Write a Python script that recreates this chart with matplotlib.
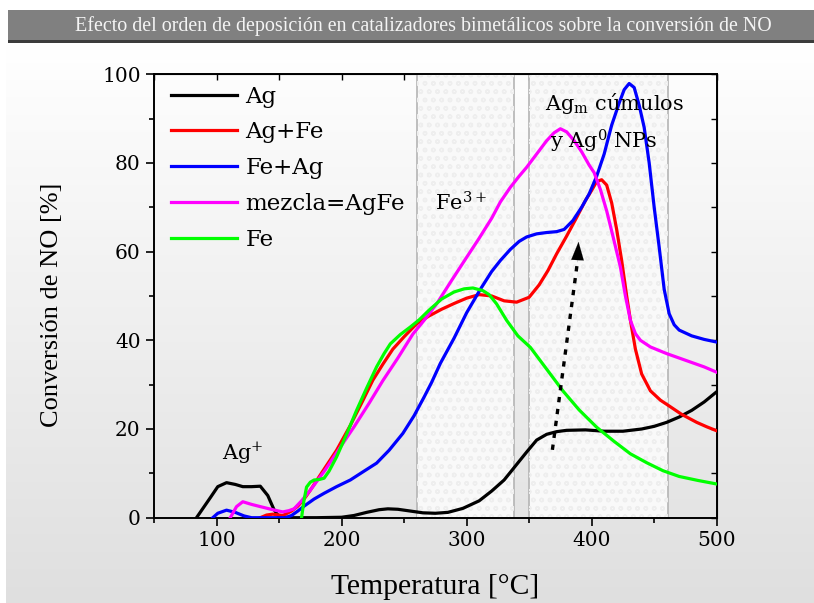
import numpy as np
import matplotlib
matplotlib.use("Agg")
from matplotlib import pyplot as plt
from matplotlib.patches import Rectangle

# curves (Temperatura [°C], Conversión de NO [%])
ag_x = [84, 95, 101, 108, 115, 121, 128, 135, 141, 146, 150, 160, 180, 200, 210, 220, 230, 237, 245, 255, 265,
        275, 285, 297, 310, 320, 330, 340, 348, 356, 364, 372, 380, 395, 410, 425, 440, 450, 460, 470, 480, 490, 500]
ag_y = [0, 4.5, 7.0, 7.9, 7.5, 7.0, 7.0, 7.1, 5.0, 1.8, 0.2, 0, 0, 0.1, 0.5, 1.2, 1.8, 2.0, 1.9, 1.5, 1.1,
        1.0, 1.2, 2.1, 3.8, 6.0, 8.5, 12.0, 14.8, 17.5, 18.8, 19.4, 19.7, 19.8, 19.5, 19.5, 20.0, 20.6, 21.5, 22.7,
        24.2, 26.1, 28.4]

agfe_x = [135, 140, 145, 153, 160, 165, 170, 175, 185, 196, 207, 217, 225, 233, 241, 250, 260, 270, 280, 290, 300,
          310, 320, 330, 340, 350, 358, 365, 372, 380, 388, 395, 400, 404, 408, 412, 416, 420, 424, 428, 431, 435,
          440, 447, 455, 463, 472, 484, 492, 500]
agfe_y = [0, 0.6, 0.8, 0.5, 1.5, 2.6, 4.2, 6.2, 10.5, 15.2, 20.8, 26.4, 31, 34.6, 38, 40.8, 43.7, 45.5, 47, 48.3,
          49.5, 50.3, 50.0, 48.9, 48.6, 49.7, 52.5, 55.7, 59.5, 63.5, 67.7, 71.5, 73.8, 75.8, 76.2, 75.0, 71, 65,
          58, 50, 44.5, 38, 32.4, 28.6, 26.5, 25, 23.3, 21.5, 20.5, 19.6]

feag_x = [97, 101, 108, 115, 122, 128, 135, 145, 155, 160, 165, 170, 178, 186, 196, 207, 218, 228, 238, 249, 258,
          266, 272, 279, 290, 300, 311, 320, 327, 335, 342, 348, 356, 364, 372, 378, 385, 392, 398, 404, 410, 416,
          422, 426, 430, 434, 438, 442, 446, 450, 454, 458, 462, 466, 470, 480, 490, 500]
feag_y = [0, 1.0, 1.7, 1.2, 0.4, 0, 0, 0, 0, 0.5, 1.5, 2.6, 4.2, 5.5, 7, 8.5, 10.5, 12.3, 15.2, 19, 23,
          27.2, 30.5, 34.8, 40.5, 46.2, 51.5, 55.5, 58, 60.5, 62.3, 63.3, 64, 64.3, 64.5, 65, 67, 70, 73, 77, 82,
          88.5, 93.5, 96.5, 97.9, 97, 93, 88, 80, 70, 61, 51.5, 46, 43.5, 42.3, 41, 40.2, 39.6]

mez_x = [111, 116, 121, 128, 135, 145, 153, 158, 162, 168, 175, 187, 199, 210, 222, 233, 245, 257, 266, 276, 288,
         300, 310, 320, 327, 335, 342, 348, 356, 364, 370, 375, 380, 386, 392, 398, 402, 407, 412, 417, 423, 427,
         431, 435, 439, 447, 460, 475, 490, 500]
mez_y = [0, 2.5, 3.6, 3.0, 2.5, 1.8, 1.3, 1.6, 2.0, 3.8, 6.2, 10.8, 15.9, 20.5, 25.8, 30.9, 36, 41.4, 44.5, 48.2,
         53.5, 58.7, 63, 67.5, 71.2, 74.5, 77, 79, 82, 85, 86.8, 87.7, 87, 85, 82.5, 79.5, 77.8, 74, 69.2, 63.5,
         56.5, 50, 44.5, 41.5, 40, 38.5, 37, 35.5, 34, 32.8]

fe_x = [168, 170, 172, 175, 178, 182, 186, 190, 196, 204, 212, 220, 228, 234, 239, 247, 255, 262, 270, 280, 290,
        298, 305, 313, 318, 324, 332, 341, 351, 364, 377, 390, 404, 418, 431, 444, 457, 470, 485, 500]
fe_y = [0, 4, 6.9, 8.0, 8.5, 8.6, 8.9, 10.5, 13.7, 18.8, 24.2, 29.2, 34, 37, 39.2, 41.3, 43, 44.6, 46.8, 49.3,
        50.9, 51.6, 51.8, 51.2, 50.3, 48.2, 44.5, 41, 38.4, 33.5, 28.6, 24.3, 20.4, 17.2, 14.4, 12.4, 10.6, 9.3,
        8.4, 7.6]

series = [(ag_x, ag_y, 'Ag', 'black'),
          (agfe_x, agfe_y, 'Ag+Fe', '#ff0000'),
          (feag_x, feag_y, 'Fe+Ag', '#0000ff'),
          (mez_x, mez_y, 'mezcla=AgFe', '#ff00ff'),
          (fe_x, fe_y, 'Fe', '#00ff00')]

spans = [(260, 337.5), (349.5, 461)]
arrow_x = [368.6, 388.6, 389.5]   # start, head base, tip
arrow_y = [15.3, 57.6, 62.2]

plt.rcParams['font.family'] = ['DejaVu Serif']
plt.rcParams['mathtext.fontset'] = 'dejavuserif'

W, H = 814, 603
fig = plt.figure(figsize=(W / 100, H / 100), dpi=100)

# gradient background
bg = fig.add_axes([6 / W, 0, 1 - 6 / W, (H - 44) / H], zorder=-5)
grad = np.linspace(1.0, 0.875, 256)[:, None]
bg.imshow(np.dstack([grad, grad, grad]), aspect='auto', extent=[0, 1, 0, 1])
bg.axis('off')

# title bar
fig.patches.append(Rectangle((8 / W, (H - 43) / H), 1, 3 / H, transform=fig.transFigure,
                             facecolor='#3c3c3c', edgecolor='none', zorder=-4))
fig.patches.append(Rectangle((8 / W, (H - 40) / H), 1, 30 / H, transform=fig.transFigure,
                             facecolor='#808080', edgecolor='none', zorder=-4))
fig.text(423.5 / W, (H - 26) / H, 'Efecto del orden de deposición en catalizadores bimetálicos sobre la conversión de NO',
         color='#f4f4f4', fontsize=14.4, family='Liberation Serif', ha='center', va='center')

ax = fig.add_axes([154 / W, (H - 517.7) / H, (716.7 - 154) / W, (517.7 - 74.2) / H])
ax.set_facecolor('none')

for a, b in spans:
    ax.axvspan(a, b, facecolor='#f9f9f9', edgecolor='#b4b4b4', lw=1.2, zorder=1)
    ax.axvspan(a, b, facecolor='none', edgecolor='#eeeeee', hatch='oo', lw=0, zorder=1)

for xs, ys, lab, col in series:
    ax.plot(xs, ys, color=col, lw=2.3, label=lab, zorder=3)

# dotted arrow
ax.plot(arrow_x[:2], arrow_y[:2], color='black', lw=2.4, ls=(0, (1.6, 2.0)), zorder=4)
ax.annotate('', xy=(arrow_x[2], arrow_y[2]), xytext=(arrow_x[1], arrow_y[1]),
            arrowprops=dict(arrowstyle='-|>,head_length=1.3,head_width=0.45', color='black', lw=0.1,
                            shrinkA=0, shrinkB=0),
            zorder=4)

ax.text(104, 14.6, 'Ag$^{+}$', fontsize=15, va='center', ha='left')
ax.text(275, 71, 'Fe$^{3+}$', fontsize=15, va='center', ha='left')
ax.text(363, 93.5, r'Ag$_{\mathrm{m}}$ cúmulos', fontsize=15, va='center', ha='left', zorder=5)
ax.text(367, 84.8, 'y Ag$^{0}$ NPs', fontsize=15, va='center', ha='left', zorder=5)

ax.set_xlim(50, 500)
ax.set_ylim(0, 100)
ax.set_xticks([100, 200, 300, 400, 500])
ax.set_xticks(np.arange(50, 501, 50), minor=True)
ax.set_yticks(np.arange(0, 101, 20))
ax.set_yticks(np.arange(0, 101, 10), minor=True)
ax.tick_params(which='major', direction='out', length=6, width=1.2, labelsize=14.5)
ax.tick_params(which='minor', direction='out', length=3.5, width=1.2)
for s in ax.spines.values():
    s.set_linewidth(1.4)

# inward ticks on the top and right
top = ax.secondary_xaxis('top')
top.set_xticks(np.arange(50, 501, 50))
top.tick_params(direction='in', length=4, width=1.0, labeltop=False)
right = ax.secondary_yaxis('right')
right.set_yticks(np.arange(0, 101, 10))
right.tick_params(direction='in', length=4, width=1.0, labelright=False)

ax.set_xlabel('Temperatura [°C]', fontsize=21.3, family='Liberation Serif')
ax.xaxis.set_label_coords(0.5, -0.127)
ax.set_ylabel('Conversión de NO [%]', fontsize=19, family='Liberation Serif', va='center')
ax.yaxis.set_label_coords(-0.181, 0.48)

ax.legend(loc='upper left', bbox_to_anchor=(0.03, 0.974), frameon=False, fontsize=16.5,
          handlelength=2.9, handletextpad=0.35, labelspacing=0.6, borderpad=0, borderaxespad=0)

fig.savefig('out.png', dpi=100)
